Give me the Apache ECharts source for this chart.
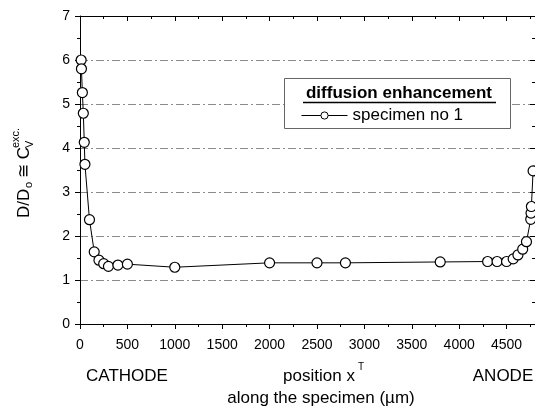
<!DOCTYPE html>
<html>
<head>
<meta charset="utf-8">
<script src="https://cdn.jsdelivr.net/npm/echarts@6/dist/echarts.min.js"></script>
<style>
  html, body { margin: 0; padding: 0; background: #fff; }
  #main { width: 535px; height: 413px; }
</style>
</head>
<body>
<div id="main"></div>
<script>
// position along the specimen (µm) and D/D0 for specimen no 1
const positions = [12, 15, 25, 35, 45, 52, 100, 150, 200, 250, 300, 400, 500, 1000,
  2000, 2500, 2800, 3800, 4300, 4400, 4500, 4570, 4620, 4670, 4710, 4755, 4758, 4762, 4780];
const ratios = [6.0, 5.8, 5.26, 4.79, 4.13, 3.63, 2.37, 1.64, 1.45, 1.37, 1.31, 1.34, 1.36, 1.29,
  1.39, 1.39, 1.39, 1.41, 1.42, 1.42, 1.42, 1.48, 1.57, 1.70, 1.87, 2.38, 2.52, 2.67, 3.48];
const seriesName = "specimen no 1";
const legendTitle = "diffusion enhancement";

const FONT = "Liberation Sans";
const points = positions.map((x, i) => [x, ratios[i]]);

const xBase = {
  type: "value",
  min: 0,
  max: 4800,
  interval: 500,
  axisLine: { show: true, onZero: false, lineStyle: { color: "#000", width: 1 } },
  splitLine: { show: false },
  minorTick: { show: true, splitNumber: 2, length: 3, lineStyle: { color: "#000" } },
};
const yBase = {
  type: "value",
  min: 0,
  max: 7,
  interval: 1,
  axisLine: { show: true, onZero: false, lineStyle: { color: "#000", width: 1 } },
  minorTick: { show: true, splitNumber: 2, length: 3, lineStyle: { color: "#000" } },
};

const chart = echarts.init(document.getElementById("main"));
chart.setOption({
  animation: false,
  backgroundColor: "#fff",
  textStyle: { fontFamily: FONT },
  grid: { left: 80, top: 16, width: 456, height: 308, containLabel: false },
  xAxis: [
    Object.assign({}, xBase, {
      position: "bottom",
      axisTick: { show: true, inside: false, length: 5, lineStyle: { color: "#000" } },
      axisLabel: { show: true, margin: 14, fontSize: 14, color: "#000", fontFamily: FONT,
        showMaxLabel: false, formatter: (v) => String(v) },
    }),
    Object.assign({}, xBase, {
      position: "top",
      axisTick: { show: true, inside: true, length: 5, lineStyle: { color: "#000" } },
      axisLabel: { show: false },
    }),
  ],
  yAxis: [
    Object.assign({}, yBase, {
      position: "left",
      axisTick: { show: true, inside: false, length: 5, lineStyle: { color: "#000" } },
      axisLabel: { show: true, margin: 10, fontSize: 14, color: "#000", fontFamily: FONT },
      splitLine: { show: true, lineStyle: { color: "#8a8a8a", width: 1, type: [8, 3, 2, 3] } },
    }),
    Object.assign({}, yBase, {
      position: "right",
      axisTick: { show: true, inside: true, length: 5, lineStyle: { color: "#000" } },
      axisLabel: { show: false },
      splitLine: { show: false },
    }),
  ],
  legend: {
    data: [seriesName],
    left: 301,
    top: 107,
    itemWidth: 46,
    itemHeight: 9,
    itemGap: 0,
    padding: 0,
    lineStyle: { width: 1, color: "#000" },
    itemStyle: { color: "#fff", borderColor: "#000", borderWidth: 1 },
    textStyle: { fontSize: 17, color: "#000", fontFamily: FONT },
  },
  series: [
    {
      name: seriesName,
      type: "line",
      data: points,
      xAxisIndex: 0,
      yAxisIndex: 0,
      symbol: "circle",
      symbolSize: 10,
      showAllSymbol: true,
      lineStyle: { color: "#000", width: 1 },
      itemStyle: { color: "#fff", borderColor: "#000", borderWidth: 1.2 },
      z: 5,
    },
  ],
  graphic: [
    // legend frame
    { type: "rect", shape: { x: 284.5, y: 78.5, width: 226, height: 50 }, z: 1,
      style: { fill: "#fff", stroke: "#666", lineWidth: 1 } },
    { type: "text", x: 399, y: 93, z: 2,
      style: { text: legendTitle, fontSize: 17, fontWeight: "bold", fontFamily: FONT,
        fill: "#000", align: "center", verticalAlign: "middle" } },
    { type: "line", shape: { x1: 303, y1: 102.5, x2: 496, y2: 102.5 }, z: 2,
      style: { stroke: "#000", lineWidth: 1.5 } },
    // y axis title, rotated
    {
      type: "group", x: 24, y: 218, rotation: Math.PI / 2,
      children: [
        { type: "text", x: 0, y: 0,
          style: { text: "D/D", fontSize: 17, fontFamily: FONT, fill: "#000", verticalAlign: "middle" } },
        { type: "text", x: 30, y: 5,
          style: { text: "o", fontSize: 11, fontFamily: FONT, fill: "#000", verticalAlign: "middle" } },
        { type: "text", x: 40, y: 0,
          style: { text: "\u2245 C", fontSize: 17, fontFamily: FONT, fill: "#000", verticalAlign: "middle" } },
        { type: "text", x: 70, y: 6,
          style: { text: "V", fontSize: 11, fontFamily: FONT, fill: "#000", verticalAlign: "middle" } },
        { type: "text", x: 70, y: -8,
          style: { text: "exc.", fontSize: 11, fontFamily: FONT, fill: "#000", verticalAlign: "middle" } },
      ],
    },
    // x axis titles
    { type: "text", x: 127, y: 376,
      style: { text: "CATHODE", fontSize: 17, fontFamily: FONT, fill: "#000", align: "center", verticalAlign: "middle" } },
    { type: "text", x: 319, y: 376,
      style: { text: "position x", fontSize: 17, fontFamily: FONT, fill: "#000", align: "center", verticalAlign: "middle" } },
    { type: "text", x: 358, y: 367,
      style: { text: "T", fontSize: 10, fontFamily: FONT, fill: "#000", align: "left", verticalAlign: "middle" } },
    { type: "text", x: 503, y: 376,
      style: { text: "ANODE", fontSize: 17, fontFamily: FONT, fill: "#000", align: "center", verticalAlign: "middle" } },
    { type: "text", x: 321, y: 398,
      style: { text: "along the specimen (\u00b5m)", fontSize: 17, fontFamily: FONT, fill: "#000", align: "center", verticalAlign: "middle" } },
  ],
});
window.onresize = function() {
  chart.resize();
};
</script>
</body>
</html>
